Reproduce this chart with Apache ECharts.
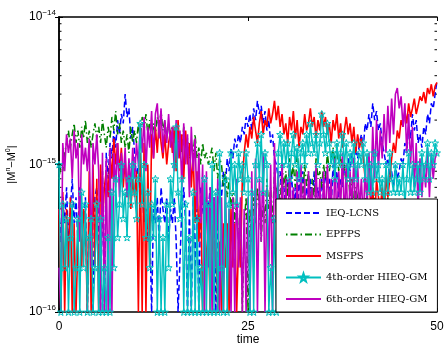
<!DOCTYPE html>
<html>
<head>
<meta charset="utf-8">
<script src="https://cdn.jsdelivr.net/npm/echarts@6/dist/echarts.min.js"></script>
<style>
html, body { margin: 0; padding: 0; background: #fff; }
#chart { width: 444px; height: 345px; }
</style>
</head>
<body>
<div id="chart"></div>
<script>
// samples every 0.25 time units from 0 to 50, values in units of 1e-16
const tStep = 0.25;
const seriesNames = ['IEQ-LCNS', 'EPFPS', 'MSFPS', '4th-order HIEQ-GM', '6th-order HIEQ-GM'];

const ieqLcns = [
    5, 3, 6, 4, 7, 3, 5, 8, 4, 6, 3, 7, 5, 4, 6, 1, 5, 3, 1, 6,
    7, 4, 1, 9, 1, 12, 8, 14, 11, 17, 13, 20, 16, 22, 19, 30, 21, 24, 15, 18,
    12, 8, 10, 6, 7, 4, 5, 3, 4, 1, 5, 4, 6, 3, 7, 5, 4, 6, 3, 5,
    4, 6, 3, 1, 1, 5, 7, 4, 1, 5, 1, 6, 2, 5, 1, 7, 5, 4, 6, 5,
    7, 4, 6, 1, 5, 8, 6, 9, 7, 11, 9, 13, 11, 15, 13, 16, 14, 18, 16, 21,
    18, 22, 17, 24, 20, 27, 22, 25, 19, 23, 17, 20, 14, 16, 11, 10, 8, 9, 6, 7,
    5, 8, 6, 9, 5, 7, 4, 8, 6, 9, 5, 7, 6, 8, 5, 9, 6, 7, 5, 8,
    6, 9, 7, 8, 5, 10, 7, 9, 6, 8, 7, 10, 8, 11, 9, 12, 10, 13, 11, 14,
    16, 13, 19, 17, 22, 18, 26, 20, 23, 17, 19, 14, 12, 10, 11, 8, 9, 7, 10, 8,
    9, 11, 10, 14, 12, 18, 15, 22, 17, 20, 14, 16, 13, 18, 16, 22, 19, 26, 24, 30,
    37
];
const epfps = [
    8, 10, 9, 12, 14, 17, 13, 16, 19, 14, 17, 13, 18, 15, 20, 14, 17, 13, 16, 19,
    15, 18, 14, 20, 16, 13, 18, 15, 21, 17, 23, 16, 19, 14, 17, 13, 16, 12, 18, 14,
    17, 14, 19, 15, 21, 17, 22, 16, 20, 14, 19, 16, 21, 18, 23, 17, 20, 15, 19, 16,
    18, 14, 17, 13, 16, 12, 18, 13, 15, 11, 14, 12, 16, 11, 13, 10, 14, 11, 12, 10,
    10, 13, 9, 12, 8, 11, 10, 7, 9, 6, 8, 5, 7, 4, 6, 3, 5, 1, 4, 6,
    1, 5, 3, 6, 4, 7, 5, 3, 6, 4, 8, 5, 7, 4, 9, 6, 8, 5, 10, 7,
    9, 6, 11, 8, 10, 7, 12, 9, 8, 6, 10, 7, 9, 5, 8, 6, 11, 8, 9, 7,
    10, 8, 12, 9, 11, 13, 10, 14, 9, 12, 8, 10, 7, 9, 6, 8, 5, 7, 6, 4,
    5, 3, 6, 4, 5, 3, 4, 6, 3, 5, 4, 3, 5, 4, 6, 3, 4, 5, 3, 4,
    5, 3, 4, 6, 3, 5, 4, 3, 5, 4, 6, 3, 4, 5, 3, 4, 5, 3, 4, 5,
    4
];
const msfps = [
    5, 1, 6.5, 1, 5, 2, 6, 1, 4, 1, 3, 6, 2, 5, 4, 1, 9, 1, 10, 2,
    8, 1, 10, 4, 7, 9, 6, 12, 8, 15, 10, 14, 9, 13, 7, 11, 6, 10, 5, 8,
    6, 9, 1, 12, 1, 14, 1, 10, 2, 16, 11, 18, 12, 20, 14, 11, 16, 10, 14, 17,
    12, 18, 9, 20, 11, 16, 8, 17, 10, 14, 7, 12, 4, 9, 3, 6, 1, 4, 2, 4,
    1, 4, 2, 4, 1, 3, 1, 4, 2, 4, 1, 5, 2, 4, 1, 3, 2, 8, 12, 16,
    13, 18, 15, 21, 17, 14, 19, 23, 16, 20, 18, 24, 19, 22, 27, 20, 25, 18, 22, 16,
    19, 14, 21, 17, 23, 15, 20, 13, 18, 16, 22, 17, 19, 24, 18, 21, 15, 20, 17, 23,
    18, 21, 16, 19, 14, 20, 17, 22, 15, 19, 13, 17, 21, 16, 19, 14, 18, 12, 16, 13,
    15, 11, 8, 6, 9, 5, 7, 4, 8, 6, 5, 7, 4, 9, 6, 8, 11, 14, 12, 17,
    15, 20, 18, 23, 19, 26, 21, 24, 28, 22, 25, 29, 27, 31, 26, 33, 30, 35, 29, 34,
    36
];
const hieq4 = [
    10, 1, 5.4, 2, 4.3, 1, 3.2, 5.4, 1, 2, 4.3, 1, 6.5, 2, 5.4, 1, 3.2, 4.3, 1, 2,
    5.4, 1, 4.3, 1, 2, 1, 3.2, 1, 6.5, 2, 8, 3.2, 5.4, 10, 4.3, 6.5, 3.2, 8, 5.4, 10,
    6.5, 4.3, 8, 19, 5.4, 10, 3.2, 6.5, 2, 5.4, 3.2, 8, 1, 4.3, 1, 3.2, 1, 5.4, 2, 8,
    5.4, 10, 18, 6.5, 4.3, 8, 1, 5.4, 1, 3.2, 1, 6.5, 1, 4.3, 1, 2, 1, 8, 1, 5.4,
    1, 10, 1, 6.5, 1, 12, 2, 1, 8, 1, 5.4, 12, 6.5, 10, 5.4, 12, 8, 10, 6.5, 12,
    8, 1, 6.5, 1, 10, 14, 8, 16, 6.5, 12, 10, 1, 2, 1, 4.3, 1, 12, 16, 10, 14,
    10, 14, 8, 12, 16, 10, 13, 8, 12, 14, 10, 16, 12, 19, 14, 12, 16, 10, 14, 22,
    16, 12, 19, 14, 10, 12, 8, 14, 10, 12, 16, 10, 14, 8, 12, 10, 14, 8, 10, 12,
    10, 14, 8, 12, 6.5, 10, 6.5, 12, 8, 10, 6.5, 8, 5.4, 10, 6.5, 12, 8, 6.5, 10, 6.5,
    8, 6.5, 10, 5.4, 8, 12, 6.5, 10, 6.5, 8, 10, 6.5, 12, 8, 10, 14, 8, 12, 10, 14,
    12
];
const hieq6 = [
    2, 1, 14, 9, 16, 12, 15, 8, 17, 11, 14, 3, 16, 10, 13, 9, 15, 2, 14, 10,
    16, 9, 1, 12, 1, 11, 1, 13, 1, 12, 7, 14, 6, 12, 8, 13, 6, 11, 7, 13,
    8, 14, 10, 19, 12, 21, 9, 18, 13, 23, 11, 22, 26, 15, 24, 12, 20, 14, 22, 13,
    18, 9, 20, 11, 17, 7, 19, 10, 16, 6, 18, 9, 15, 5, 12, 4, 10, 1, 9, 2,
    7, 1, 6, 2, 8, 1, 6, 1, 7, 2, 5, 1, 6, 1, 8, 2, 6, 1, 5, 1,
    6, 1, 9, 2, 11, 1, 8, 3, 12, 1, 7, 2, 10, 1, 14, 4, 9, 1, 11, 3,
    8, 3, 10, 4, 7, 2, 9, 3, 10, 4, 8, 2, 9, 5, 7, 3, 10, 4, 8, 3,
    9, 4, 10, 5, 8, 3, 11, 4, 9, 5, 12, 4, 10, 3, 9, 5, 11, 4, 10, 5,
    8, 4, 10, 5, 12, 6, 18, 8, 20, 9, 17, 11, 22, 12, 25, 14, 28, 16, 30, 33,
    24, 29, 18, 26, 12, 22, 10, 18, 7, 14, 5, 11, 6, 10, 7, 13, 6, 12, 8, 11,
    12
];

const yTickExp = ['\u221216', '\u221215', '\u221214'];
const minorTickValues = [2, 3, 4, 5, 6, 7, 8, 9, 20, 30, 40, 50, 60, 70, 80, 90];

const chart = echarts.init(document.getElementById('chart'), null, {renderer: 'canvas'});

function toPairs(arr) {
    return arr.map((v, i) => [i * tStep, v]);
}

const star = 'path://M0,-10L2.35,-3.24L9.51,-3.09L3.8,1.24L5.88,8.09L0,4L-5.88,8.09L-3.8,1.24L-9.51,-3.09L-2.35,-3.24Z';
const font = 'Liberation Sans';
const noFill = 'rgba(0,0,0,0)';

const lineBase = {
    type: 'line',
    showSymbol: false,
    symbol: 'none',
    animation: false,
    clip: true,
    z: 2,
    itemStyle: {color: noFill, borderWidth: 0}
};

const option = {
    backgroundColor: '#fff',
    animation: false,
    grid: {
        left: 59,
        right: 7,
        top: 17,
        bottom: 33,
        containLabel: false,
        outerBoundsMode: 'none'
    },
    legend: {
        orient: 'vertical',
        left: 276,
        top: 199,
        z: 10,
        padding: [9, 10, 8, 9],
        itemGap: 11.5,
        itemWidth: 35,
        itemHeight: 10,
        backgroundColor: '#fff',
        borderColor: '#000',
        borderWidth: 1,
        borderRadius: 0,
        data: seriesNames,
        textStyle: {
            fontFamily: 'DejaVu Serif',
            fontSize: 10,
            color: '#000'
        }
    },
    xAxis: [{
        type: 'value',
        min: 0,
        max: 50,
        interval: 25,
        name: 'time',
        nameLocation: 'middle',
        nameGap: 22,
        nameMoveOverlap: false,
        nameTextStyle: {fontFamily: font, fontSize: 12, color: '#000'},
        axisLine: {lineStyle: {color: '#000', width: 1.5}},
        axisTick: {inside: true, length: 4, lineStyle: {color: '#000'}},
        axisLabel: {margin: 9, fontFamily: font, fontSize: 12, color: '#000'},
        splitLine: {show: false}
    }, {
        type: 'value',
        position: 'top',
        min: 0,
        max: 50,
        interval: 25,
        axisLine: {lineStyle: {color: '#000', width: 1.5}},
        axisTick: {inside: true, length: 4, lineStyle: {color: '#000'}},
        axisLabel: {show: false},
        splitLine: {show: false}
    }],
    yAxis: [{
        type: 'log',
        logBase: 10,
        min: 1,
        max: 100,
        name: '{t||M}{u|n}{t|\u2212M}{u|0}{t||}',
        nameLocation: 'middle',
        nameGap: 40,
        nameRotate: 90,
        nameMoveOverlap: false,
        nameTextStyle: {
            rich: {
                t: {fontFamily: font, fontSize: 11, color: '#000', lineHeight: 14},
                u: {fontFamily: font, fontSize: 7, color: '#000', verticalAlign: 'top', lineHeight: 8}
            }
        },
        axisLine: {lineStyle: {color: '#000', width: 1.5}},
        axisTick: {inside: true, length: 4, lineStyle: {color: '#000'}},
        axisLabel: {
            margin: 3,
            formatter: function (v) {
                const k = Math.round(Math.log10(v));
                return '{b|10}{s|' + yTickExp[k] + '}';
            },
            rich: {
                b: {fontFamily: font, fontSize: 12, color: '#000', lineHeight: 16},
                s: {fontFamily: font, fontSize: 8, color: '#000', verticalAlign: 'top', lineHeight: 8}
            }
        },
        splitLine: {show: false}
    }, {
        type: 'log',
        logBase: 10,
        min: 1,
        max: 100,
        position: 'right',
        axisLine: {lineStyle: {color: '#000', width: 1.5}},
        axisTick: {inside: true, length: 4, lineStyle: {color: '#000'}},
        axisLabel: {show: false},
        splitLine: {show: false}
    }],
    series: [
        Object.assign({}, lineBase, {
            name: seriesNames[0],
            data: toPairs(ieqLcns),
            lineStyle: {color: '#0000ff', width: 1.5, type: [6, 3]}
        }),
        Object.assign({}, lineBase, {
            name: seriesNames[1],
            data: toPairs(epfps),
            lineStyle: {color: '#008000', width: 1.5, type: [1.5, 3, 7, 3]}
        }),
        Object.assign({}, lineBase, {
            name: seriesNames[2],
            data: toPairs(msfps),
            lineStyle: {color: '#ff0000', width: 1.6}
        }),
        {
            type: 'line',
            name: seriesNames[3],
            data: toPairs(hieq4),
            animation: false,
            clip: true,
            z: 3,
            symbol: star,
            symbolSize: 7,
            showSymbol: true,
            showAllSymbol: true,
            itemStyle: {color: noFill, borderColor: '#00bfbf', borderWidth: 1},
            lineStyle: {color: '#00bfbf', width: 1.4}
        },
        Object.assign({}, lineBase, {
            name: seriesNames[4],
            data: toPairs(hieq6),
            lineStyle: {color: '#bf00bf', width: 1.6}
        })
    ]
};

chart.setOption(option);

// minor ticks of the log axis, placed through the axis scale
const xLeft = chart.convertToPixel({xAxisIndex: 0}, 0);
const xRight = chart.convertToPixel({xAxisIndex: 0}, 50);
const ticks = [];
minorTickValues.forEach(function (v) {
    const y = chart.convertToPixel({yAxisIndex: 0}, v);
    ticks.push({type: 'line', z: 0, shape: {x1: xLeft, y1: y, x2: xLeft + 2.5, y2: y}, style: {stroke: '#000', lineWidth: 1}});
    ticks.push({type: 'line', z: 0, shape: {x1: xRight, y1: y, x2: xRight - 2.5, y2: y}, style: {stroke: '#000', lineWidth: 1}});
});
chart.setOption({graphic: ticks});
</script>
</body>
</html>
